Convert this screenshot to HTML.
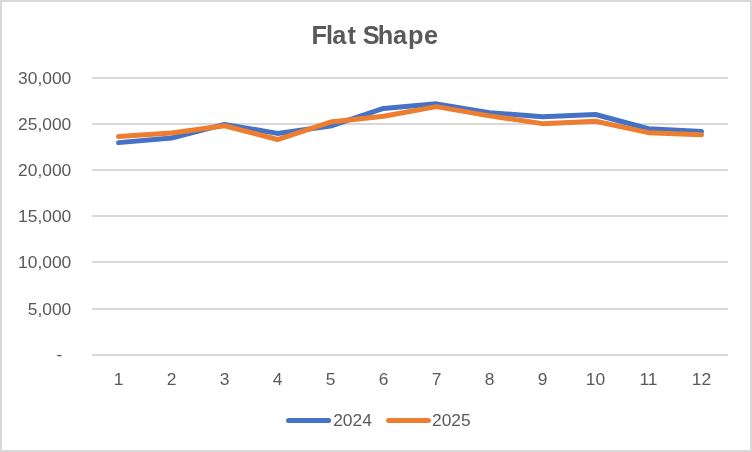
<!DOCTYPE html>
<html><head><meta charset="utf-8"><title>Flat Shape</title>
<style>
html,body{margin:0;padding:0;background:#fff;}
body{width:752px;height:452px;overflow:hidden;}
svg{display:block;}
text{font-family:"Liberation Sans",sans-serif;fill:#595959;}
.lbl text{font-size:17.4px;}
.title{font-size:25.3px;font-weight:bold;}
</style></head><body>
<svg width="752" height="452" viewBox="0 0 752 452">
<rect x="0" y="0" width="752" height="452" fill="#fff"/>
<rect x="1" y="1" width="750" height="450" fill="none" stroke="#D9D9D9" stroke-width="2"/>
<g stroke="#D9D9D9" stroke-width="2">
<line x1="92" x2="728" y1="78.00" y2="78.00"/>
<line x1="92" x2="728" y1="124.00" y2="124.00"/>
<line x1="92" x2="728" y1="170.00" y2="170.00"/>
<line x1="92" x2="728" y1="216.00" y2="216.00"/>
<line x1="92" x2="728" y1="262.00" y2="262.00"/>
<line x1="92" x2="728" y1="309.00" y2="309.00"/>
<line x1="92" x2="728" y1="355.00" y2="355.00"/>
</g>
<text class="title" x="311.6 325.9 332.3 347.6 356.5 362.65 377.76 393 408.07 424" y="43.5">Flat Shape</text>
<g class="lbl">
<text x="71.3" y="83.75" text-anchor="end">30,000</text>
<text x="71.3" y="129.75" text-anchor="end">25,000</text>
<text x="71.3" y="175.75" text-anchor="end">20,000</text>
<text x="71.3" y="221.75" text-anchor="end">15,000</text>
<text x="71.3" y="267.75" text-anchor="end">10,000</text>
<text x="71.3" y="314.75" text-anchor="end">5,000</text>
<text x="62.3" y="360.20" text-anchor="end">-</text>
<text x="118.5" y="384.6" text-anchor="middle">1</text>
<text x="171.5" y="384.6" text-anchor="middle">2</text>
<text x="224.5" y="384.6" text-anchor="middle">3</text>
<text x="277.5" y="384.6" text-anchor="middle">4</text>
<text x="330.5" y="384.6" text-anchor="middle">5</text>
<text x="383.5" y="384.6" text-anchor="middle">6</text>
<text x="436.5" y="384.6" text-anchor="middle">7</text>
<text x="489.5" y="384.6" text-anchor="middle">8</text>
<text x="542.5" y="384.6" text-anchor="middle">9</text>
<text x="595.5" y="384.6" text-anchor="middle">10</text>
<text x="648.5" y="384.6" text-anchor="middle">11</text>
<text x="701.5" y="384.6" text-anchor="middle">12</text>
<text x="333.15" y="426">2024</text>
<text x="432" y="426">2025</text>
</g>
<g fill="none" stroke-width="5" stroke-linecap="round" stroke-linejoin="round">
<polyline stroke="#4472C4" points="118.5,142.63 171.5,138.02 224.5,124.37 277.5,133.40 330.5,126.01 383.5,108.47 436.5,103.85 489.5,112.62 542.5,116.78 595.5,114.53 648.5,128.78 701.5,131.55"/>
<polyline stroke="#ED7D31" points="118.5,136.59 171.5,132.90 224.5,125.71 277.5,139.54 330.5,122.02 383.5,116.28 436.5,106.62 489.5,115.86 542.5,123.64 595.5,121.20 648.5,132.68 701.5,134.82"/>
<line stroke="#4472C4" x1="288.6" x2="328.6" y1="420.45" y2="420.45"/>
<line stroke="#ED7D31" x1="388.6" x2="428.4" y1="420.45" y2="420.45"/>
</g>
</svg>
</body></html>
